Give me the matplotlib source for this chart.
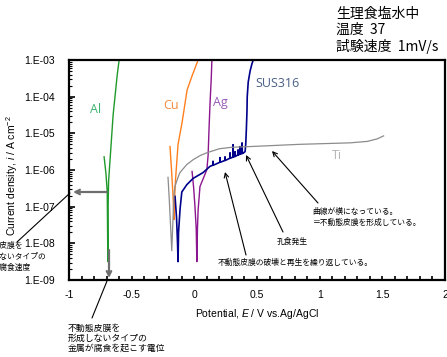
import numpy as np
import matplotlib
matplotlib.use("Agg")
import matplotlib.pyplot as plt
from matplotlib.ticker import FixedLocator, FuncFormatter, MultipleLocator, LogLocator, NullFormatter

plt.rcParams['font.family'] = ['Liberation Sans', 'Noto Sans CJK JP', 'DejaVu Sans']
plt.rcParams['mathtext.fontset'] = 'custom'
plt.rcParams['mathtext.it'] = 'Liberation Sans:italic'
plt.rcParams['mathtext.rm'] = 'Liberation Sans'

# ---- data: potential (V vs Ag/AgCl) and log10 current density (A/cm2) ----
al_E = [-0.72, -0.705, -0.695, -0.69, -0.688, -0.684, -0.672, -0.66, -0.648, -0.63, -0.615, -0.60]
al_logi = [-5.64, -6.1, -6.6, -8.5, -7.0, -6.3, -5.7, -5.1, -4.5, -3.9, -3.4, -3.0]

cu_E = [-0.194, -0.182, -0.17, -0.162, -0.158, -0.15, -0.13, -0.098, -0.058, -0.02, 0.03]
cu_logi = [-5.36, -6.0, -6.7, -7.35, -6.8, -6.26, -5.3, -4.71, -3.82, -3.45, -3.0]

ag_E = [-0.018, -0.005, 0.005, 0.015, 0.02, 0.025, 0.03, 0.045, 0.075, 0.10, 0.11, 0.117, 0.125, 0.135, 0.14]
ag_logi = [-6.04, -6.5, -7.0, -7.6, -8.5, -7.6, -7.1, -6.45, -6.2, -5.99, -5.6, -4.9, -4.2, -3.5, -3.0]

sus_E = [-0.154, -0.142, -0.134, -0.13, -0.126, -0.114, -0.10, -0.06, -0.01, 0.07, 0.125,
         0.147, 0.149, 0.151, 0.203, 0.205, 0.207, 0.243, 0.245, 0.247, 0.283, 0.285, 0.287,
         0.307, 0.309, 0.311, 0.323, 0.325, 0.327, 0.347, 0.349, 0.351, 0.363, 0.365, 0.367,
         0.379, 0.381, 0.383, 0.389, 0.405, 0.41, 0.415, 0.42, 0.422, 0.43, 0.445, 0.46, 0.47]
sus_logi = [-6.72, -7.3, -8.0, -8.5, -7.7, -7.07, -6.6, -6.4, -6.23, -6.07, -5.9,
            -5.87, -5.76, -5.87, -5.79, -5.66, -5.79, -5.74, -5.64, -5.74, -5.68, -5.53, -5.68,
            -5.65, -5.31, -5.65, -5.63, -5.5, -5.63, -5.59, -5.45, -5.59, -5.57, -5.36, -5.57,
            -5.55, -5.26, -5.55, -5.54, -5.5, -5.3, -4.9, -4.4, -4.0, -3.6, -3.3, -3.1, -3.0]

ti_E = [-0.21, -0.20, -0.19, -0.18, -0.17, -0.163, -0.155, -0.13, -0.115, -0.06, -0.01, 0.05,
        0.10, 0.20, 0.30, 0.45, 0.84, 1.24, 1.38, 1.46, 1.51]
ti_logi = [-6.2, -6.8, -7.5, -8.2, -7.3, -6.7, -6.45, -6.2, -6.07, -5.85, -5.72, -5.6,
           -5.53, -5.42, -5.38, -5.36, -5.3, -5.26, -5.22, -5.15, -5.07]

series = [
    ("Al", al_E, al_logi, "#1f9a2a", "#3cb371", (-0.835, -4.35), 1.0),
    ("Cu", cu_E, cu_logi, "#ff7f1e", "#f28a3c", (-0.25, -4.25), 1.0),
    ("Ag", ag_E, ag_logi, "#8b168f", "#9b59b6", (0.15, -4.15), 1.0),
    ("SUS316", sus_E, sus_logi, "#00008b", "#4a6088", (0.485, -3.65), 1.2),
    ("Ti", ti_E, ti_logi, "#8c8c8c", "#b4b4b4", (1.10, -5.6), 0.9),
]

yticks = [1e-9, 1e-8, 1e-7, 1e-6, 1e-5, 1e-4, 1e-3]
xticks = [-1, -0.5, 0, 0.5, 1, 1.5, 2]
xticklabels = ["-1", "-0.5", "0", "0.5", "1", "1.5", "2"]

W, H = 447, 357
fig = plt.figure(figsize=(W / 100, H / 100), dpi=100)
ax = fig.add_axes([69 / W, 1 - 280 / H, 376 / W, 220 / H])


def P(x, y):
    return (x / W, 1 - y / H)


for name, E, lg, c, lc, lab, lw in series:
    ax.plot(E, 10 ** np.array(lg), color=c, lw=lw)
    ax.text(lab[0], 10 ** lab[1], name, color=lc, fontsize=9, family=['Open Sans'],
            ha='left', va='center')

ax.set_yscale('log')
ax.set_xlim(-1, 2)
ax.set_ylim(1e-9, 1e-3)
ax.yaxis.set_major_locator(FixedLocator(yticks))
ax.yaxis.set_major_formatter(FuncFormatter(lambda v, p: "1.E-%02d" % int(round(-np.log10(v)))))
ax.yaxis.set_minor_locator(LogLocator(base=10, subs=np.arange(2, 10)))
ax.yaxis.set_minor_formatter(NullFormatter())
ax.xaxis.set_major_locator(FixedLocator(xticks))
ax.set_xticklabels(xticklabels)
ax.xaxis.set_minor_locator(MultipleLocator(0.1))
ax.tick_params(axis='both', which='both', direction='in', labelsize=7.5)
ax.tick_params(axis='y', which='major', length=4, width=1.2, pad=10)
ax.tick_params(axis='y', which='minor', length=2, width=0.8)
ax.tick_params(axis='x', which='major', length=3, width=1.2, pad=7)
ax.tick_params(axis='x', which='minor', length=3, width=1.2)
for s in ax.spines.values():
    s.set_linewidth(1.6)

ax.set_xlabel("Potential, $E$ / V vs.Ag/AgCl", fontsize=7.5, labelpad=5)
ax.set_ylabel("Current density, $i$ / A cm$^{-2}$", fontsize=7.5)
ax.yaxis.set_label_coords(20 / W, 1 - 176 / H, transform=fig.transFigure)

jp = ['Noto Sans CJK JP', 'DejaVu Sans']

# title block
fig.text(*P(336, 14), "生理食塩水中", fontsize=10, family=jp, va='center')
fig.text(*P(336, 30), "温度  37", fontsize=10, family=jp, va='center')
fig.text(*P(336, 46), "試験速度  1mV/s", fontsize=10, family=jp, va='center')


def arrow(tail, head, color='black', lw=0.8, style='->'):
    fig.add_artist(matplotlib.patches.FancyArrowPatch(
        P(*tail), P(*head), transform=fig.transFigure, arrowstyle=style,
        mutation_scale=8, color=color, lw=lw, shrinkA=0, shrinkB=0))


arrow((107, 192), (73, 192), color='#6e6e6e', lw=1.6)
arrow((17, 242), (70, 193), style='-')
arrow((109, 250), (109, 278), color='#6e6e6e', lw=1.6)
arrow((92, 318), (107, 281), style='-')
arrow((318, 203), (272, 151))
arrow((283, 232), (246, 155))
arrow((246, 255), (225, 172))

fs = 5.6
fs2 = 6.4
fig.text(*P(312, 212), "曲線が横になっている。", fontsize=fs, family=jp, va='center')
fig.text(*P(313, 223), "＝不動態皮膜を形成している。", fontsize=fs, family=jp, va='center')
fig.text(*P(277, 242), "孔食発生", fontsize=fs, family=jp, va='center')
fig.text(*P(218, 263), "不動態皮膜の破壊と再生を繰り返している。", fontsize=fs, family=jp, va='center')
fig.text(*P(68, 328), "不動態皮膜を", fontsize=fs2, family=jp, va='center')
fig.text(*P(68, 338), "形成しないタイプの", fontsize=fs2, family=jp, va='center')
fig.text(*P(68, 348), "金属が腐食を起こす電位", fontsize=fs2, family=jp, va='center')
fig.text(*P(-23, 246), "不動態皮膜を", fontsize=fs, family=jp, va='center')
fig.text(*P(-23, 257), "形成しないタイプの", fontsize=fs, family=jp, va='center')
fig.text(*P(-23, 268), "金属の腐食速度", fontsize=fs, family=jp, va='center')

fig.savefig("out.png", dpi=100)
